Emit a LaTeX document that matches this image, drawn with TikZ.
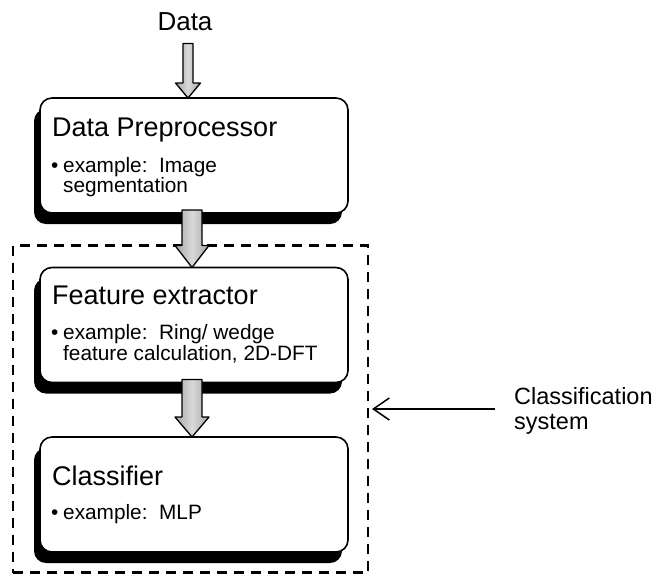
\documentclass[tikz,border=0pt]{standalone}
\usepackage{fontspec}
\setmainfont{Liberation Sans}
\usetikzlibrary{arrows.meta,calc,shadows}

% block arrow pointing down: start, tip, half shaft, half head, head length
\newcommand{\blockarrow}[5]{%
  \path[blockarr] let \p1=#1, \p2=#2 in
    ({\x1-#3pt},\y1) -- ({\x1-#3pt},{\y2+#5pt}) -- ({\x1-#4pt},{\y2+#5pt}) -- (\x1,\y2)
    -- ({\x1+#4pt},{\y2+#5pt}) -- ({\x1+#3pt},{\y2+#5pt}) -- ({\x1+#3pt},\y1) -- cycle;}

\begin{document}
\begin{tikzpicture}[x=1pt,y=-1pt,
  stage/.style={draw,line width=1.6pt,fill=white,rounded corners=12pt,
    minimum width=308pt,minimum height=115pt,inner sep=0pt,outer sep=0pt,
    drop shadow={shadow xshift=-6pt,shadow yshift=-11pt,fill=black,opacity=1}},
  title/.style={anchor=base west,inner sep=0pt,font=\fontsize{27}{30}\selectfont},
  item/.style={anchor=base west,inner sep=0pt,font=\fontsize{20.8}{22}\selectfont},
  blockarr/.style={draw,line width=1.3pt,line join=round,
    left color=gray!70,right color=gray!70,middle color=gray!30}]
  \useasboundingbox (0,0) rectangle (659,574);

  \node[draw,line width=2.2pt,dash pattern=on 10pt off 7pt,minimum width=355pt,
    minimum height=327pt,inner sep=0pt,outer sep=0pt] (sys) at (190.5,409) {};

  \node[inner sep=0pt,anchor=base,font=\fontsize{26}{30}\selectfont] (data) at (185,30) {Data};

  % the three stages
  \node[stage] (pre) at (194,155.5) {};
  \node[title] (pre-t) at ($(pre.north west)+(12,38)$) {Data Preprocessor};
  \node[item] (pre-b) at ($(pre.north west)+(11,74)$) {•};
  \node[item] (pre-1) at ($(pre.north west)+(23,74)$) {example:\ \ Image};
  \node[item] (pre-2) at ($(pre.north west)+(23,94)$) {segmentation};

  \node[stage] (feat) at (194,325) {};
  \node[title] (feat-t) at ($(feat.north west)+(12,37)$) {Feature extractor};
  \node[item] (feat-b) at ($(feat.north west)+(11,72)$) {•};
  \node[item] (feat-1) at ($(feat.north west)+(23,72)$) {example:\ \ Ring/ wedge};
  \node[item] (feat-2) at ($(feat.north west)+(23,93)$) {feature calculation, 2D-DFT};

  \node[stage] (clf) at (194,494.5) {};
  \node[title] (clf-t) at ($(clf.north west)+(12,48)$) {Classifier};
  \node[item] (clf-b) at ($(clf.north west)+(11,82)$) {•};
  \node[item] (clf-1) at ($(clf.north west)+(23,82)$) {example:\ \ MLP};

  \blockarrow{($(data.south)+(3,13)$)}{(pre.north)}{5}{12.5}{15}
  \blockarrow{($(pre.south)+(-2,-3)$)}{(feat.north)}{10}{17}{22}
  \blockarrow{($(feat.south)+(-2,-3)$)}{(clf.north)}{10}{17}{20}

  \node[anchor=west,align=left,inner sep=0pt,font=\fontsize{23.5}{25}\selectfont]
    (cls) at (514,411) {Classification\\system};
  \coordinate (tail) at ($(sys.east)+(127,0)$);
  \draw[line width=1.5pt,-{Straight Barb[length=16pt,width=22pt]},shorten >=4pt] (tail) -- (sys.east);
\end{tikzpicture}
\end{document}
